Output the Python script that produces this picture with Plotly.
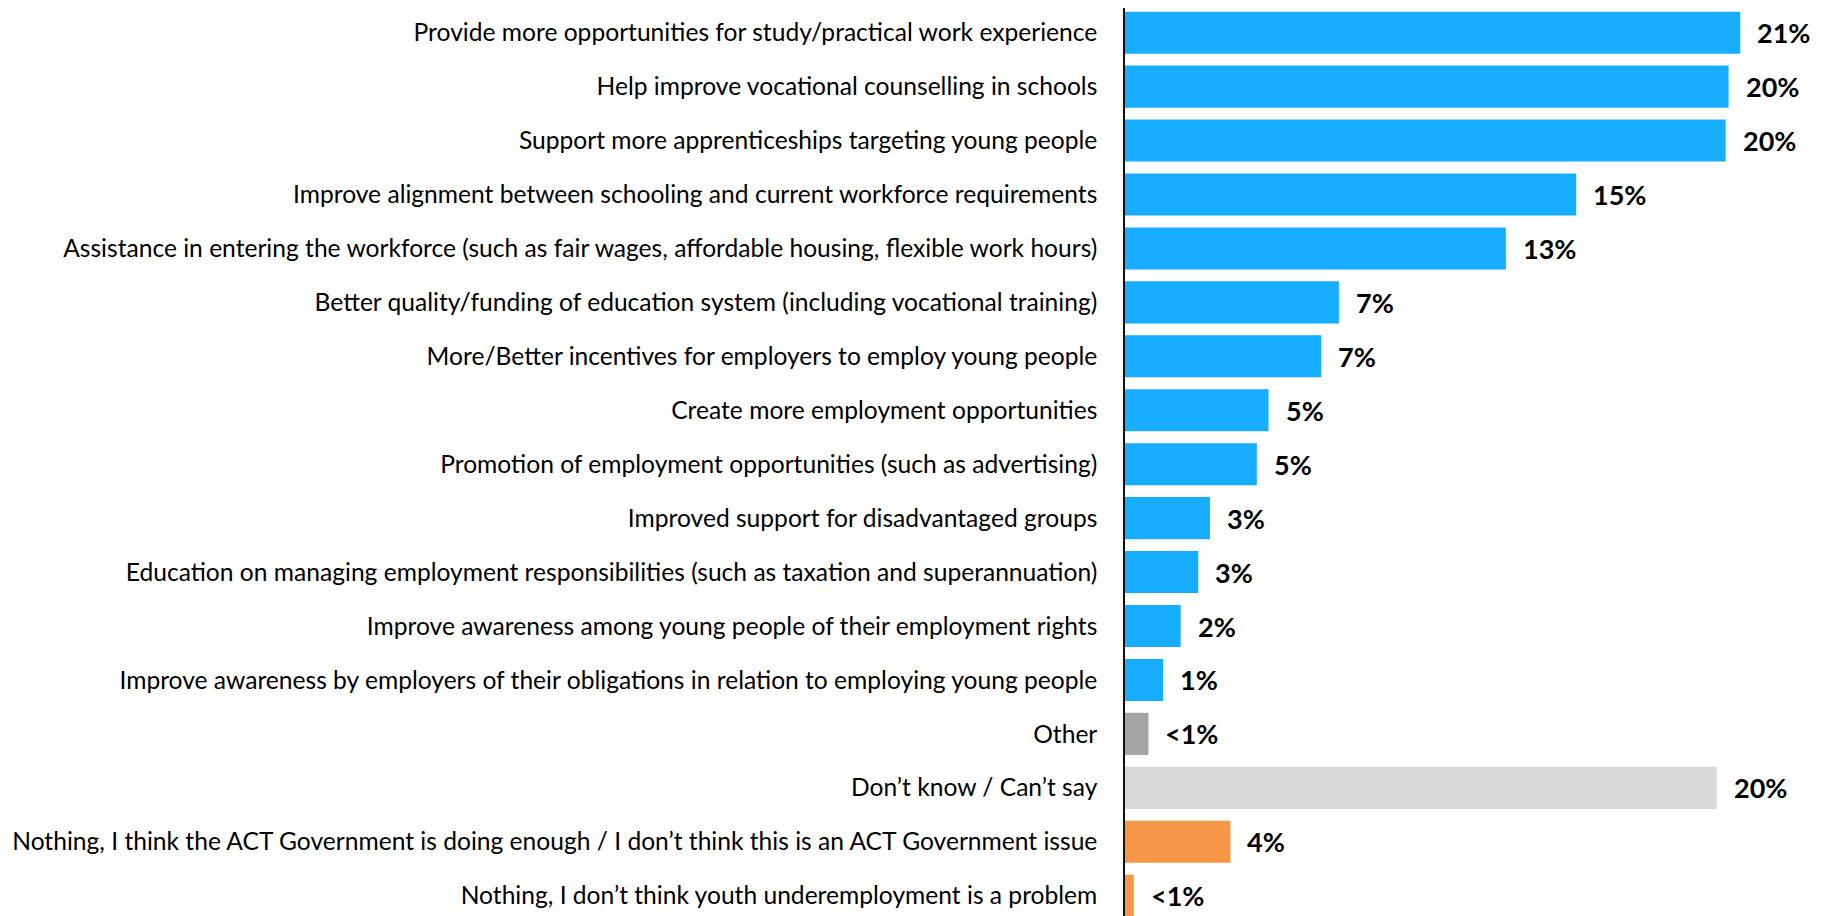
import plotly.graph_objects as go

categories = [
    "Provide more opportunities for study/practical work experience",
    "Help improve vocational counselling in schools",
    "Support more apprenticeships targeting young people",
    "Improve alignment between schooling and current workforce requirements",
    "Assistance in entering the workforce (such as fair wages, affordable housing, flexible work hours)",
    "Better quality/funding of education system (including vocational training)",
    "More/Better incentives for employers to employ young people",
    "Create more employment opportunities",
    "Promotion of employment opportunities (such as advertising)",
    "Improved support for disadvantaged groups",
    "Education on managing employment responsibilities (such as taxation and superannuation)",
    "Improve awareness among young people of their employment rights",
    "Improve awareness by employers of their obligations in relation to employing young people",
    "Other",
    "Don\u2019t know / Can\u2019t say",
    "Nothing, I think the ACT Government is doing enough / I don\u2019t think this is an ACT Government issue",
    "Nothing, I don\u2019t think youth underemployment is a problem",
]
values = [21.0, 20.6, 20.5, 15.4, 13.0, 7.3, 6.7, 4.9, 4.5, 2.9, 2.5, 1.9, 1.3, 0.8, 20.2, 3.6, 0.3]
value_labels = ["21%", "20%", "20%", "15%", "13%", "7%", "7%", "5%", "5%", "3%", "3%",
                "2%", "1%", "<1%", "20%", "4%", "<1%"]
groups = ["main"] * 13 + ["other", "dontknow", "nothing", "nothing"]

group_colors = {"main": "#17AEFF", "other": "#A6A6A6", "dontknow": "#D9D9D9", "nothing": "#F79646"}
bar_colors = [group_colors[g] for g in groups]

fig = go.Figure()
fig.add_trace(go.Bar(
    x=values, y=categories, orientation="h",
    marker=dict(color=bar_colors, line=dict(width=0)),
    hoverinfo="x+y",
))

for c, v, t in zip(categories, values, value_labels):
    fig.add_annotation(
        x=v, y=c, text=t, showarrow=False, xanchor="left", yanchor="middle",
        xshift=15, font=dict(family="Lato", size=27, color="#000000", weight="bold"),
    )

fig.update_layout(
    width=1823, height=908,
    margin=dict(l=1117, r=0, t=0, b=0, autoexpand=False),
    paper_bgcolor="white", plot_bgcolor="white",
    bargap=0.22,
    showlegend=False,
    font=dict(family="Lato", size=24.6, color="#000000"),
)
fig.update_xaxes(range=[0, 706 / 29.3], visible=False, showgrid=False, zeroline=False)
fig.update_yaxes(
    range=[16.376, -0.458], showgrid=False, zeroline=False, automargin=False,
    showline=True, linecolor="#111111", linewidth=1.5,
    ticks="outside", ticklen=21, tickcolor="rgba(0,0,0,0)",
    tickfont=dict(family="Lato", size=24.6, color="#000000"),
)

fig.write_html("out.html")
